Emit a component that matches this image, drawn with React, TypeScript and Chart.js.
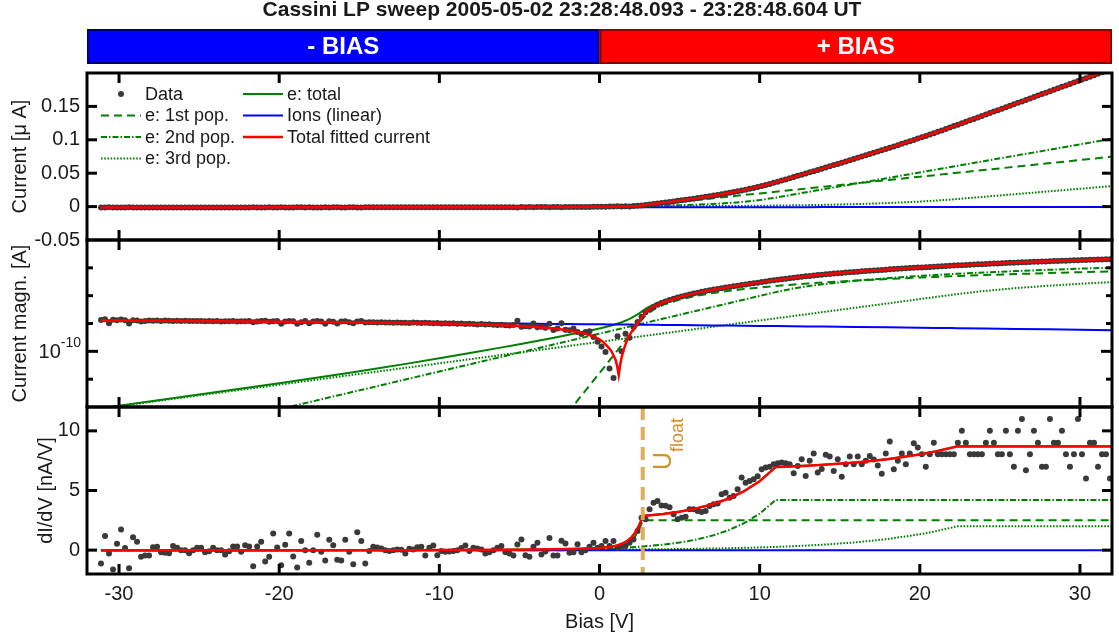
import { useEffect, useRef } from "react";
import { Chart, registerables } from "chart.js";

Chart.register(...registerables);

const FONT_FAMILY = '"Liberation Sans", Arial, Helvetica, sans-serif';
const INK = "#1a1a1a";
const DOT = "#3a3a3a";

const TITLE = "Cassini LP sweep 2005-05-02 23:28:48.093 - 23:28:48.604 UT";
const BIAS_LABELS = ["- BIAS", "+ BIAS"];
const X_TICKS = [-30, -20, -10, 0, 10, 20, 30];
const CURRENT_TICKS = [-0.05, 0, 0.05, 0.1, 0.15, 0.2];
const CURRENT_MARKS = [0, 0.05, 0.1, 0.15];
const LOG_MARKS = [1e-11, 1e-10, 1e-9, 1e-8, 1e-7];
const LOG_LABELLED = 1e-10;
const DIDV_TICKS = [0, 5, 10];
const U_FLOAT = 2.7; // floating potential, V

// Sweep: bias steps of the measured points (V)
const SWEEP_START = -31.125;
const SWEEP_STEP = 0.25;

// Measured probe current (nA), one value per sweep step
const CURRENT_NA = [
  -1.33, -1.42, -1.02, -1.36, -1.31, -1.39, -1.30, -1.00, -1.32, -1.29,
  -1.19, -1.22, -1.29, -1.25, -1.28, -1.24, -1.27, -1.25, -1.23, -1.26,
  -1.24, -1.25, -1.23, -1.24, -1.22, -1.24, -1.21, -1.23, -1.20, -1.22,
  -1.19, -1.21, -1.20, -1.23, -1.18, -1.21, -1.20, -1.24, -1.10, -1.17,
  -1.24, -1.25, -1.15, -1.21, -1.24, -0.98, -1.18, -1.24, -1.20, -0.97,
  -1.12, -1.22, -1.03, -1.19, -1.22, -1.18, -0.98, -1.20, -1.16, -1.00,
  -1.18, -1.21, -1.10, -1.02, -1.19, -1.22, -1.08, -1.12, -1.10, -1.09,
  -1.10, -1.08, -1.09, -1.07, -1.08, -1.06, -1.07, -1.05, -1.08, -1.06,
  -1.04, -1.07, -1.05, -1.03, -1.05, -1.01, -1.03, -0.99, -1.02, -0.98,
  -0.99, -0.96, -0.98, -0.95, -0.93, -0.96, -0.92, -0.94, -0.90, -0.89,
  -0.91, -0.86, -0.84, -0.88, -1.25, -0.76, -0.80, -0.78, -1.00, -0.74,
  -0.76, -0.70, -0.98, -0.58, -0.66, -1.02, -0.60, -0.57, -0.66, -0.50,
  -0.42, -0.50, -0.53, -0.33, -0.22,
  -0.15, -0.094, -0.024, -0.011, 0.35, 0.10, 0.43, 0.31, 0.75, 1.13,
  1.75, 2.55, 3.2, 3.9, 4.7, 5.45, 6.2, 7.0, 7.75, 8.6,
  9.4, 10.2, 11.1, 11.9, 12.8, 13.7, 14.6, 15.5, 16.5, 17.5,
  18.5, 19.6, 20.6, 21.8, 22.9, 24.1, 25.3, 26.7, 28.0, 29.4,
  30.8, 32.4, 34.0, 35.6, 37.3, 39.0, 40.7, 42.5, 44.3, 46.0,
  47.8, 49.6, 51.3, 53.1, 54.9, 56.7, 58.5, 60.3, 62.1, 63.9,
  65.7, 67.5, 69.4, 71.2, 73.0, 74.9, 76.7, 78.6, 80.5, 82.4,
  84.3, 86.1, 88.1, 90.0, 91.9, 93.9, 95.8, 97.8, 99.8, 101.8,
  103.8, 105.8, 107.9, 109.9, 112.0, 114.1, 116.2, 118.3, 120.5, 122.6,
  124.8, 127.0, 129.2, 131.3, 133.5, 135.7, 137.9, 140.1, 142.2, 144.4,
  146.6, 148.8, 150.9, 153.1, 155.3, 157.5, 159.7, 161.8, 164.0, 166.2,
  168.4, 170.5, 172.7, 174.9, 177.1, 179.3, 181.4, 183.6, 185.8, 188.0,
  190.2, 192.3, 194.5, 196.7, 198.9, 201.0, 203.2, 205.4,
];

// Measured dI/dV (nA/V), one value per sweep step
const DIDV_DATA = [
  -1.12, 1.18, -0.28, -1.62, 0.53, 1.74, 0.17, -1.51, 1.09, 0.70,
  -0.56, -0.45, -0.45, 0.25, 0.28, -0.17, -0.22, -0.25, 0.34, 0.20,
  0, 0, -0.25, 0, 0.2, 0.2, -0.17, -0.1, 0.2, 0,
  0, -0.36, -0.1, 0.3, 0.3, -0.14, 0.4, 0.3, -1.35, 0.3,
  0.7, -0.95, -0.56, 1.4, 0.22, -1.26, 0.45, 1.4, -0.53, -1.46,
  0.76, 0, -1.06, 0, 1.29, -0.14, -0.87, 0.87, 0.42, -0.81,
  -0.87, 0.87, -0.14, -1.18, 1.51, 0.76, -1.12, -0.08, 0.28, 0.22,
  0.14, 0, -0.08, 0, 0.05,
  0.03, -0.28, 0.11, 0.06, 0.25, 0.28, -0.45, 0.2, 0.39, -0.42,
  -0.08, -0.14, -0.11, -0.08, 0, 0.17, 0.39, -0.08, 0.2, 0.14,
  0.06, -0.28, -0.17, 0, 0.2, 0.34, -0.17, -0.28, -0.45, 0.48,
  0.9, -0.42, -0.56, 0.28, 0.62, -0.36, -0.11, 1.01, -0.45, -0.45,
  0.78, 0.56, -0.22, -0.17, 0.5, -0.17, 0, 0.28, 0.62, 0.2,
  0.34, 0.76, 0.34, 0.76, 0.2, 0.34, 0.34, 0.62, 0.9, 1.6,
  2.72, 2.58, 3.42, 3.98, 4.12, 3.75, 3.72, 3.6, 3.0, 2.58,
  2.72, 2.8, 3.42, 3.42, 3.28, 3.19, 3.28, 3.7, 3.84, 3.92,
  4.68, 4.82, 4.4, 4.54, 5.1, 6.08, 5.66, 5.8, 5.94, 6.2,
  6.78, 6.92, 7.0, 7.2, 7.28, 7.34, 7.28, 7.2, 6.44, 7.06,
  7.62, 6.22, 7.5, 8.1, 6.5, 6.8, 8.0, 7.84, 6.64, 7.62,
  6.16, 7.2, 7.84, 7.2, 7.84, 7.2, 7.5, 7.9, 7.6, 7.1, 6.4,
  8.1, 9.1, 6.78, 7.5, 8.1, 7.2, 8.1, 8.96, 8.6, 8.04,
  7.0, 8.04, 9.0, 8.04, 8.04, 8.04, 8.04, 8.04, 9.0, 10.0,
  9.0, 8.04, 8.04, 8.04, 8.04, 9.0, 10.0, 9.0, 8.04, 8.04,
  10.0, 8.04, 7.0, 10.0, 11.0, 6.7, 8.04, 10.0, 9.0, 7.0,
  7.0, 11.0, 9.0, 9.0, 10.0, 8.04, 7.0, 8.04, 11.0, 8.04,
  6.0, 9.0, 9.0, 7.0, 8.04, 8.04, 6.0,
];

// Bias grid of the fitted model curves (V)
const FIT_BIAS = [
  -31.125, -30, -28, -26, -24, -22, -20, -18, -16, -14, -12, -10, -8, -6, -5, -4,
  -3, -2, -1, -0.5, 0, 0.25, 0.5, 0.75, 1, 1.1, 1.2, 1.3, 1.4, 1.5, 1.75, 2, 2.25, 2.5, 2.7,
  3, 3.5, 4, 5, 6, 7, 8, 9, 10, 11, 12, 13, 14, 16, 18, 20, 21, 22, 22.3, 24, 26, 28, 30, 32,
];

// Fitted currents (nA)
const E1_NA = [
  null, null, null, null, null, null, null, null, null, null, null, null, null, null, null, null,
  0.00011, 0.00059, 0.0032, 0.0072, 0.0167, 0.025, 0.038, 0.058, 0.088, 0.104, 0.123, 0.146, 0.172, 0.203, 0.308, 0.467, 0.709, 1.075, 1.5,
  2.25, 3.5, 4.75, 7.25, 9.75, 12.25, 14.75, 17.25, 19.75, 22.25, 24.75, 27.25, 29.75, 34.75, 39.75, 44.75, 47.25, 49.75, 50.5, 54.75, 59.75, 64.75, 69.75, 74.75,
];
const E2_NA = [
  0.000026, 0.0000366, 0.0000683, 0.000128, 0.000238, 0.000445, 0.00083, 0.00155, 0.0029, 0.0054, 0.0101, 0.0189, 0.0353, 0.0661, 0.0903, 0.1234,
  0.1687, 0.2306, 0.3152, 0.3685, 0.431, 0.466, 0.504, 0.545, 0.589, 0.608, 0.627, 0.647, 0.668, 0.689, 0.745, 0.805, 0.871, 0.941, 1.002,
  1.100, 1.286, 1.503, 2.055, 2.809, 3.839, 5.247, 7.173, 9.804, 13.4, 17.6, 21.8, 26.0, 34.4, 42.8, 51.2, 55.4, 59.6, 60.86, 68.0, 76.4, 84.8, 93.2, 101.6,
];
const E3_NA = [
  0.00088, 0.00108, 0.00154, 0.00219, 0.00312, 0.00444, 0.00633, 0.00902, 0.0129, 0.0183, 0.0261, 0.0372, 0.0529, 0.0755, 0.0901, 0.1075,
  0.1283, 0.1531, 0.1828, 0.1998, 0.218, 0.228, 0.238, 0.249, 0.260, 0.265, 0.270, 0.274, 0.279, 0.284, 0.297, 0.311, 0.325, 0.340, 0.352,
  0.371, 0.405, 0.443, 0.529, 0.632, 0.753, 0.900, 1.074, 1.281, 1.529, 1.825, 2.178, 2.601, 3.705, 5.279, 7.521, 8.978, 10.716, 11.3, 14.7, 18.7, 22.7, 26.7, 30.7,
];
const ETOT_NA = [
  0.00091, 0.00112, 0.00161, 0.00232, 0.00336, 0.00489, 0.00716, 0.0106, 0.0158, 0.0237, 0.0362, 0.0561, 0.0882, 0.1416, 0.1804, 0.2309,
  0.2971, 0.3843, 0.5012, 0.5755, 0.666, 0.719, 0.780, 0.852, 0.937, 0.977, 1.020, 1.067, 1.119, 1.176, 1.350, 1.583, 1.905, 2.356, 2.854,
  3.721, 5.191, 6.696, 9.834, 13.19, 16.84, 20.90, 25.50, 30.84, 37.18, 44.18, 51.23, 58.35, 72.86, 87.83, 103.47, 111.63, 120.07, 122.66, 137.45, 154.85, 172.25, 189.65, 207.05,
];
const ION_NA = [
  -1.290, -1.277, -1.254, -1.231, -1.209, -1.186, -1.163, -1.140, -1.117, -1.095, -1.072, -1.049, -1.026, -1.003, -0.992, -0.981,
  -0.969, -0.958, -0.946, -0.941, -0.935, -0.932, -0.929, -0.926, -0.924, -0.922, -0.921, -0.920, -0.919, -0.918, -0.915, -0.912, -0.909, -0.906, -0.904,
  -0.901, -0.895, -0.889, -0.878, -0.867, -0.855, -0.844, -0.832, -0.821, -0.810, -0.798, -0.787, -0.775, -0.753, -0.730, -0.707, -0.696, -0.684, -0.681, -0.661, -0.639, -0.616, -0.593, -0.570,
];
const FIT_NA = [
  -1.289, -1.276, -1.252, -1.229, -1.206, -1.181, -1.156, -1.129, -1.101, -1.071, -1.036, -0.993, -0.938, -0.861, -0.812, -0.750,
  -0.672, -0.574, -0.445, -0.365, -0.269, -0.21, -0.15, -0.10, -0.05, -0.03, 0.014, 0.035, 0.067, 0.11, 0.28, 0.5, 0.8, 1.3, 1.9,
  3.0, 4.4, 5.81, 8.96, 12.32, 15.99, 20.05, 24.66, 30.02, 36.37, 43.38, 50.44, 57.58, 72.10, 87.10, 102.76, 110.93, 119.38, 121.98, 136.79, 154.21, 171.63, 189.06, 206.48,
];

// Fitted dI/dV (nA/V)
const E1_D = [
  0, 0, 0, 0, 0, 0, 0, 0, 0, 0, 0, 0, 0, 0, 0, 0,
  0.0002, 0.001, 0.0053, 0.012, 0.028, 0.042, 0.063, 0.097, 0.147, 0.173, 0.205, 0.243, 0.287, 0.338, 0.513, 0.778, 1.182, 1.792, 2.5,
  2.5, 2.5, 2.5, 2.5, 2.5, 2.5, 2.5, 2.5, 2.5, 2.5, 2.5, 2.5, 2.5, 2.5, 2.5, 2.5, 2.5, 2.5, 2.5, 2.5, 2.5, 2.5, 2.5, 2.5,
];
const E2_D = [
  0, 0, 0, 0, 0.0001, 0.0001, 0.0003, 0.0005, 0.0009, 0.0017, 0.0032, 0.0059, 0.011, 0.0207, 0.0282, 0.0386,
  0.0527, 0.0721, 0.0985, 0.1152, 0.1347, 0.1456, 0.1575, 0.1703, 0.1841, 0.19, 0.196, 0.202, 0.209, 0.2153, 0.2328, 0.2516, 0.2722, 0.2941, 0.3131,
  0.3438, 0.4019, 0.4697, 0.6422, 0.8778, 1.1997, 1.6397, 2.2416, 3.0638, 4.2, 4.2, 4.2, 4.2, 4.2, 4.2, 4.2, 4.2, 4.2, 4.2, 4.2, 4.2, 4.2, 4.2, 4.2,
];
const E3_D = [
  0.0002, 0.0002, 0.0003, 0.0004, 0.0006, 0.0008, 0.0011, 0.0016, 0.0023, 0.0032, 0.0046, 0.0066, 0.0094, 0.0134, 0.0159, 0.019,
  0.0227, 0.0271, 0.0324, 0.0354, 0.0386, 0.0404, 0.0421, 0.0441, 0.046, 0.0469, 0.0478, 0.0485, 0.0494, 0.0503, 0.0526, 0.055, 0.0575, 0.0602, 0.0623,
  0.0657, 0.0717, 0.0784, 0.0936, 0.1119, 0.1333, 0.1593, 0.1901, 0.2267, 0.2706, 0.323, 0.3855, 0.4604, 0.6558, 0.9343, 1.3312, 1.589, 1.8966, 2.0, 2.0, 2.0, 2.0, 2.0, 2.0,
];
const ETOT_D = [
  0.0002, 0.0002, 0.0003, 0.0004, 0.0007, 0.0009, 0.0014, 0.0021, 0.0032, 0.0049, 0.0078, 0.0125, 0.0204, 0.0341, 0.0441, 0.0576,
  0.0756, 0.1002, 0.1362, 0.1626, 0.2013, 0.228, 0.2626, 0.3114, 0.3771, 0.4099, 0.4488, 0.4935, 0.5454, 0.6036, 0.7984, 1.0846, 1.5117, 2.1463, 2.8754,
  2.9095, 2.9736, 3.0481, 3.2358, 3.4897, 3.833, 4.299, 4.9317, 5.7905, 6.9706, 7.023, 7.0855, 7.1604, 7.3558, 7.6343, 8.0312, 8.289, 8.5966, 8.7, 8.7, 8.7, 8.7, 8.7, 8.7,
];
const FIT_D = [
  -0.011, -0.011, -0.011, -0.011, -0.010, -0.010, -0.010, -0.009, -0.008, -0.006, -0.003, 0.002, 0.009, 0.023, 0.033, 0.047,
  0.065, 0.089, 0.125, 0.152, 0.190, 0.217, 0.252, 0.300, 0.366, 0.399, 0.438, 0.483, 0.534, 0.593, 0.787, 1.074, 1.501, 2.135, 2.864,
  2.899, 2.963, 3.037, 3.225, 3.479, 3.822, 4.288, 4.921, 5.780, 6.960, 7.012, 7.075, 7.149, 7.345, 7.623, 8.020, 8.278, 8.586, 8.689, 8.689, 8.689, 8.689, 8.689, 8.689,
];
// Linear ion current has a constant slope
const ION_D_BIAS = [-31.125, 32];
const ION_D = [-0.011, -0.011];

type SeriesStyle = { label: string; color: string; dash: number[]; width: number };
const STYLES: Record<string, SeriesStyle> = {
  data: { label: "Data", color: DOT, dash: [], width: 0 },
  e1: { label: "e: 1st pop.", color: "#008000", dash: [8, 5], width: 2 },
  e2: { label: "e: 2nd pop.", color: "#008000", dash: [6, 2, 1.5, 2], width: 2 },
  e3: { label: "e: 3rd pop.", color: "#008000", dash: [1.6, 1.6], width: 2 },
  etot: { label: "e: total", color: "#008000", dash: [], width: 2 },
  ion: { label: "Ions (linear)", color: "#0000ff", dash: [], width: 2 },
  fit: { label: "Total fitted current", color: "#ff0000", dash: [], width: 2.5 },
};
const LEGEND_COLUMNS = [["data", "e1", "e2", "e3"], ["etot", "ion", "fit"]];
const LINE_ORDER: Record<string, number> = { fit: 0, ion: 2, etot: 3, e1: 4, e2: 4, e3: 4 };

const sweepBias = CURRENT_NA.map((_, i) => SWEEP_START + i * SWEEP_STEP);

const toMicroAmp = (v: number) => v / 1000;
const toAbsAmp = (v: number) => Math.abs(v) * 1e-9;
const asIs = (v: number) => v;

function points(xs: number[], ys: (number | null)[], conv: (v: number) => number) {
  return xs.map((x, i) => ({ x, y: ys[i] == null ? null : conv(ys[i] as number) }));
}

function lineSet(key: string, axis: string, xs: number[], ys: (number | null)[], conv: (v: number) => number) {
  const s = STYLES[key];
  return {
    label: s.label,
    yAxisID: axis,
    data: points(xs, ys, conv),
    borderColor: s.color,
    backgroundColor: s.color,
    borderWidth: s.width,
    borderDash: s.dash,
    pointRadius: 0,
    fill: false,
    tension: 0,
    spanGaps: false,
    order: LINE_ORDER[key],
  };
}

function dotSet(axis: string, ys: number[], conv: (v: number) => number) {
  return {
    label: STYLES.data.label,
    yAxisID: axis,
    data: points(sweepBias.slice(0, ys.length), ys, conv),
    showLine: false,
    pointRadius: 3,
    pointBorderWidth: 0,
    pointBackgroundColor: DOT,
    borderColor: DOT,
    backgroundColor: DOT,
    order: 1,
  };
}

function currentPanel(axis: string, conv: (v: number) => number) {
  return [
    dotSet(axis, CURRENT_NA, conv),
    lineSet("e1", axis, FIT_BIAS, E1_NA, conv),
    lineSet("e2", axis, FIT_BIAS, E2_NA, conv),
    lineSet("e3", axis, FIT_BIAS, E3_NA, conv),
    lineSet("etot", axis, FIT_BIAS, ETOT_NA, conv),
    lineSet("ion", axis, FIT_BIAS, ION_NA, conv),
    lineSet("fit", axis, FIT_BIAS, FIT_NA, conv),
  ];
}

const datasets = [
  ...currentPanel("yI", toMicroAmp),
  ...currentPanel("yLog", toAbsAmp),
  dotSet("yD", DIDV_DATA, asIs),
  lineSet("e1", "yD", FIT_BIAS, E1_D, asIs),
  lineSet("e2", "yD", FIT_BIAS, E2_D, asIs),
  lineSet("e3", "yD", FIT_BIAS, E3_D, asIs),
  lineSet("etot", "yD", FIT_BIAS, ETOT_D, asIs),
  lineSet("ion", "yD", ION_D_BIAS, ION_D, asIs),
  lineSet("fit", "yD", FIT_BIAS, FIT_D, asIs),
];

const tickFont = { family: FONT_FAMILY, size: 20 };
const titleFont = { family: FONT_FAMILY, size: 20 };
const AXIS_WIDTH = 80;

function leftAxis(extra: any) {
  return {
    position: "left",
    stack: "panels",
    stackWeight: 1,
    grid: { display: false, drawTicks: false },
    border: { display: false },
    afterFit: (s: any) => {
      s.width = AXIS_WIDTH;
    },
    ...extra,
  };
}

function line(ctx: CanvasRenderingContext2D, x1: number, y1: number, x2: number, y2: number) {
  ctx.beginPath();
  ctx.moveTo(x1, y1);
  ctx.lineTo(x2, y2);
  ctx.stroke();
}

const decorations = {
  id: "decorations",
  afterDatasetsDraw(chart: any) {
    const { ctx } = chart;
    const xs = chart.scales.x;
    const yI = chart.scales.yI;
    const yLog = chart.scales.yLog;
    const yD = chart.scales.yD;
    ctx.save();

    // floating potential marker
    const ux = xs.getPixelForValue(U_FLOAT);
    ctx.strokeStyle = "rgba(224,168,80,0.95)";
    ctx.lineWidth = 4;
    ctx.setLineDash([13, 7]);
    line(ctx, ux, yD.top, ux, yD.bottom);
    ctx.setLineDash([]);
    ctx.fillStyle = "#d4912a";
    ctx.save();
    ctx.translate(ux + 28, yD.top + 63);
    ctx.rotate(-Math.PI / 2);
    ctx.textAlign = "left";
    ctx.textBaseline = "alphabetic";
    ctx.font = `25px ${FONT_FAMILY}`;
    ctx.fillText("U", 0, 0);
    const uw = ctx.measureText("U").width;
    ctx.font = `18px ${FONT_FAMILY}`;
    ctx.fillText("float", uw, 12);
    ctx.restore();

    // panel frames with inward ticks
    ctx.strokeStyle = "#000";
    ctx.lineWidth = 3;
    const panels = [
      { s: yI, marks: CURRENT_MARKS.map((v) => [v, 10]) },
      { s: yLog, marks: LOG_MARKS.map((v) => [v, v === LOG_LABELLED ? 11 : 6]) },
      { s: yD, marks: DIDV_TICKS.map((v) => [v, 10]) },
    ];
    for (const p of panels) {
      const s = p.s;
      ctx.strokeRect(xs.left, s.top, xs.right - xs.left, s.bottom - s.top);
      for (const v of X_TICKS) {
        const px = xs.getPixelForValue(v);
        line(ctx, px, s.top, px, s.top + 10);
        line(ctx, px, s.bottom, px, s.bottom - 10);
      }
      for (const [v, len] of p.marks) {
        const py = s.getPixelForValue(v);
        line(ctx, xs.left, py, xs.left + len, py);
        line(ctx, xs.right, py, xs.right - len, py);
      }
    }

    // decade label of the logarithmic panel
    const py = yLog.getPixelForValue(LOG_LABELLED);
    ctx.fillStyle = INK;
    ctx.textBaseline = "middle";
    ctx.textAlign = "right";
    ctx.font = `14px ${FONT_FAMILY}`;
    const sup = "-10";
    const supW = ctx.measureText(sup).width;
    ctx.fillText(sup, xs.left - 6, py - 8);
    ctx.font = `20px ${FONT_FAMILY}`;
    ctx.fillText("10", xs.left - 6 - supW, py + 1);

    // legend
    ctx.font = `18px ${FONT_FAMILY}`;
    ctx.textAlign = "left";
    ctx.textBaseline = "middle";
    const colX = [xs.left + 14, xs.left + 156];
    LEGEND_COLUMNS.forEach((col, ci) => {
      col.forEach((key, ri) => {
        const st = STYLES[key];
        const x0 = colX[ci];
        const y0 = yI.top + 21 + ri * 21.5;
        if (key === "data") {
          ctx.fillStyle = st.color;
          ctx.beginPath();
          ctx.arc(x0 + 20, y0, 3, 0, Math.PI * 2);
          ctx.fill();
        } else {
          ctx.strokeStyle = st.color;
          ctx.lineWidth = st.width;
          ctx.setLineDash(st.dash);
          line(ctx, x0, y0, x0 + 40, y0);
          ctx.setLineDash([]);
        }
        ctx.fillStyle = INK;
        ctx.fillText(st.label, x0 + 44, y0 + 1);
      });
    });
    ctx.restore();
  },
  afterDraw(chart: any) {
    const { ctx } = chart;
    const xs = chart.scales.x;
    const zero = xs.getPixelForValue(0);
    ctx.save();
    // title
    ctx.fillStyle = INK;
    ctx.font = `bold 21px ${FONT_FAMILY}`;
    ctx.textAlign = "center";
    ctx.textBaseline = "middle";
    ctx.fillText(TITLE, 562, 10);

    // bias polarity bar
    const top = 29;
    const h = 35;
    const parts = [
      { x0: xs.left, x1: zero, fill: "#0000ff", edge: "#00006e", text: BIAS_LABELS[0] },
      { x0: zero, x1: xs.right, fill: "#ff0000", edge: "#8a0000", text: BIAS_LABELS[1] },
    ];
    for (const p of parts) {
      ctx.fillStyle = p.fill;
      ctx.fillRect(p.x0, top, p.x1 - p.x0, h);
      ctx.strokeStyle = p.edge;
      ctx.lineWidth = 2;
      ctx.strokeRect(p.x0 + 1, top + 1, p.x1 - p.x0 - 2, h - 2);
      ctx.fillStyle = "#ffffff";
      ctx.font = `bold 24px ${FONT_FAMILY}`;
      ctx.fillText(p.text, (p.x0 + p.x1) / 2, top + h / 2 + 1);
    }
    ctx.restore();
  },
};

export default function App() {
  const ref = useRef<HTMLCanvasElement>(null);
  useEffect(() => {
    document.body.style.margin = "0";
    const chart = new Chart(ref.current as HTMLCanvasElement, {
      type: "line",
      data: { datasets: datasets as any },
      options: {
        animation: false,
        responsive: false,
        devicePixelRatio: 1,
        events: [],
        layout: { padding: { left: 7, right: 7, top: 73, bottom: 0 } },
        plugins: { legend: { display: false }, tooltip: { enabled: false }, title: { display: false } },
        scales: {
          x: {
            type: "linear",
            position: "bottom",
            min: -32,
            max: 32,
            grid: { display: false, drawTicks: false },
            border: { display: false },
            afterBuildTicks: (s: any) => {
              s.ticks = X_TICKS.map((value) => ({ value }));
            },
            afterFit: (s: any) => {
              s.height = 65;
            },
            ticks: { padding: 8, autoSkip: false, maxRotation: 0, font: tickFont, color: INK, callback: (v: any) => String(v) },
            title: { display: true, text: "Bias [V]", font: titleFont, color: INK, padding: { top: 0, bottom: 5 } },
          },
          yD: leftAxis({
            type: "linear",
            min: -2,
            max: 12,
            afterBuildTicks: (s: any) => {
              s.ticks = DIDV_TICKS.map((value) => ({ value }));
            },
            ticks: { padding: 7, autoSkip: false, font: tickFont, color: INK, callback: (v: any) => String(v) },
            title: { display: true, text: "dI/dV [nA/V]", font: titleFont, color: INK, padding: { top: 27, bottom: 0 } },
          }),
          yLog: leftAxis({
            type: "logarithmic",
            min: 1e-12,
            max: 1e-6,
            ticks: { display: false },
            title: { display: true, text: "Current magn. [A]", font: titleFont, color: INK, padding: { top: 1, bottom: 0 } },
          }),
          yI: leftAxis({
            type: "linear",
            min: -0.05,
            max: 0.2,
            afterBuildTicks: (s: any) => {
              s.ticks = CURRENT_TICKS.map((value) => ({ value }));
            },
            ticks: {
              padding: 7,
              autoSkip: false,
              font: tickFont,
              color: INK,
              callback: (v: any) => (Math.abs(v - 0.2) < 1e-9 ? "" : String(Number(Number(v).toFixed(2)))),
            },
            title: { display: true, text: "Current [μ A]", font: titleFont, color: INK, padding: { top: 1, bottom: 0 } },
          }),
        },
      } as any,
      plugins: [decorations],
    });
    return () => chart.destroy();
  }, []);
  return (
    <div style={{ width: 1119, height: 639 }}>
      <canvas ref={ref} width={1119} height={639} style={{ display: "block" }} />
    </div>
  );
}
